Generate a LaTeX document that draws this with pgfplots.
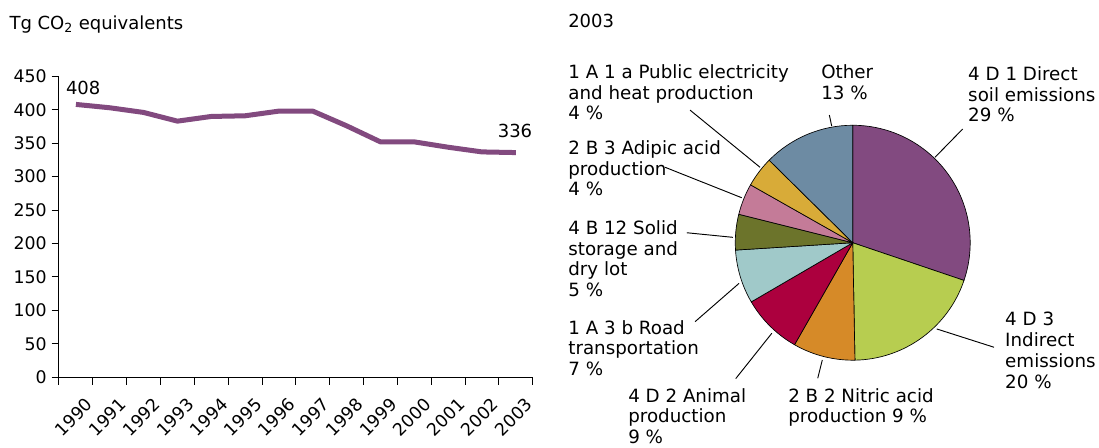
\documentclass[border=0pt]{standalone}
\usepackage{pgfplots}
\usepackage{pgfplotstable}
\pgfplotsset{compat=1.18}
\usepackage{fontspec}
\setmainfont{DejaVu Sans}

\definecolor{linepurple}{HTML}{824A7F}
\definecolor{pdirect}{HTML}{824A80}
\definecolor{pindirect}{HTML}{B7CD50}
\definecolor{pnitric}{HTML}{D68A28}
\definecolor{panimal}{HTML}{AC003E}
\definecolor{proad}{HTML}{A0C9C9}
\definecolor{psolid}{HTML}{6C742B}
\definecolor{padipic}{HTML}{C47B98}
\definecolor{ppublic}{HTML}{D8AB38}
\definecolor{pother}{HTML}{6D8BA3}

% total emissions, Tg CO2 equivalents
\pgfplotstableread{
x  y
0  408
1  403
2  396
3  383
4  390
5  391
6  398
7  398
8  376
9  352
10 352
11 344
12 337
13 336
}\trenddata

% shares 2003, clockwise from 12 o'clock
\pgfplotstableread{
share col
30.2  pdirect
19.5  pindirect
8.55  pnitric
8.35  panimal
7.4   proad
4.9   psolid
4.3   padipic
4.2   ppublic
12.6  pother
}\piedata

\def\pieR{88.1pt}

\begin{document}
\begin{tikzpicture}[font=\fontsize{13.5}{15.6}\selectfont]
\path[use as bounding box] (-44.25pt,-53pt) rectangle (780pt,283pt);

\begin{axis}[
  at={(0,0)}, anchor=south west,
  scale only axis, width=355.3pt, height=225.75pt,
  xmin=-0.5, xmax=13.5, ymin=0, ymax=450,
  axis lines=left,
  axis line style={-, black, line width=0.75pt},
  xtick={-0.5,0.5,...,13.5},
  xticklabels={},
  extra x ticks={0,...,13},
  extra x tick labels={1990,1991,1992,1993,1994,1995,1996,1997,1998,1999,2000,2001,2002,2003},
  extra x tick style={tick style={draw=none}},
  ytick={0,50,...,450},
  tick align=outside,
  tick style={black, line width=0.75pt},
  major tick length=5.5pt,
  /pgf/number format/assume math mode=true,
  ticklabel style={font=\fontsize{13}{15}\selectfont},
  xticklabel style={rotate=45, anchor=north east, inner sep=0pt, xshift=-1.75pt, yshift=-11pt},
  yticklabel style={inner sep=0pt, xshift=-3.5pt},
  clip=false,
]
\addplot[linepurple, line width=3.75pt, line join=round] table[x=x, y=y] {\trenddata};
\node[anchor=base west, inner sep=0pt] at (axis cs:-0.30,423) {408};
\node[anchor=base west, inner sep=0pt] at (axis cs:12.46,358) {336};
\end{axis}

\node[anchor=base west, inner sep=0pt] at (-37.3pt,260.5pt) {Tg CO\textsubscript{2} equivalents};
\node[anchor=base west, inner sep=0pt] at (381.75pt,262pt) {2003};

\begin{axis}[
  at={(507.2pt,12.85pt)}, anchor=south west,
  scale only axis, width=176.2pt, height=176.2pt,
  xmin=-1, xmax=1, ymin=-1, ymax=1,
  hide axis, clip=false,
]
\xdef\cum{90}
\pgfplotsforeachungrouped \i in {0,...,8}{
  \pgfplotstablegetelem{\i}{share}\of\piedata
  \let\v\pgfplotsretval
  \pgfplotstablegetelem{\i}{col}\of\piedata
  \let\c\pgfplotsretval
  \pgfmathsetmacro\e{\cum-3.6*\v}
  \edef\temp{\noexpand\filldraw[fill=\c, draw=black, line width=0.5pt, line join=round]
    (axis cs:0,0) -- ++(\cum:\noexpand\pieR) arc[start angle=\cum, end angle=\e, radius=\noexpand\pieR] -- cycle;}
  \temp
  \xdef\cum{\e}
}

\draw[line width=0.7pt] (axis cs:-0.199,1.087) -- (axis cs:-0.179,0.993);
\draw[line width=0.7pt] (axis cs:0.936,0.968) -- (axis cs:0.700,0.727);
\draw[line width=0.7pt] (axis cs:0.715,-0.734) -- (axis cs:1.203,-0.890);
\draw[line width=0.7pt] (axis cs:-0.259,-0.998) -- (axis cs:-0.298,-1.154);
\draw[line width=0.7pt] (axis cs:-0.689,-0.771) -- (axis cs:-0.996,-1.157);
\draw[line width=0.7pt] (axis cs:-0.968,-0.346) -- (axis cs:-1.342,-0.672);
\draw[line width=0.7pt] (axis cs:-1.413,0.085) -- (axis cs:-1.021,0.046);
\draw[line width=0.7pt] (axis cs:-1.597,0.642) -- (axis cs:-0.945,0.383);
\draw[line width=0.7pt] (axis cs:-1.385,1.129) -- (axis cs:-0.789,0.642);

\begin{scope}[font=\fontsize{13.7}{15.6}\selectfont]
\node[anchor=north west, align=left, inner sep=0pt] at (axis cs:-0.270,1.521) {Other\\13 \%};
\node[anchor=north west, align=left, inner sep=0pt] at (axis cs:0.981,1.504) {4 D 1 Direct\\soil emissions\\29 \%};
\node[anchor=north west, align=left, inner sep=0pt] at (axis cs:1.296,-0.590) {4 D 3\\Indirect\\emissions\\20 \%};
\node[anchor=north west, align=left, inner sep=0pt] at (axis cs:-0.551,-1.237) {2 B 2 Nitric acid\\production 9 \%};
\node[anchor=north west, align=left, inner sep=0pt] at (axis cs:-1.913,-1.237) {4 D 2 Animal\\production\\9 \%};
\node[anchor=north west, align=left, inner sep=0pt] at (axis cs:-2.423,-0.658) {1 A 3 b Road\\transportation\\7 \%};
\node[anchor=north west, align=left, inner sep=0pt] at (axis cs:-2.423,0.193) {4 B 12 Solid\\storage and\\dry lot\\5 \%};
\node[anchor=north west, align=left, inner sep=0pt] at (axis cs:-2.423,0.874) {2 B 3 Adipic acid\\production\\4 \%};
\node[anchor=north west, align=left, inner sep=0pt] at (axis cs:-2.423,1.521) {1 A 1 a Public electricity\\and heat production\\4 \%};
\end{scope}
\end{axis}
\end{tikzpicture}
\end{document}
